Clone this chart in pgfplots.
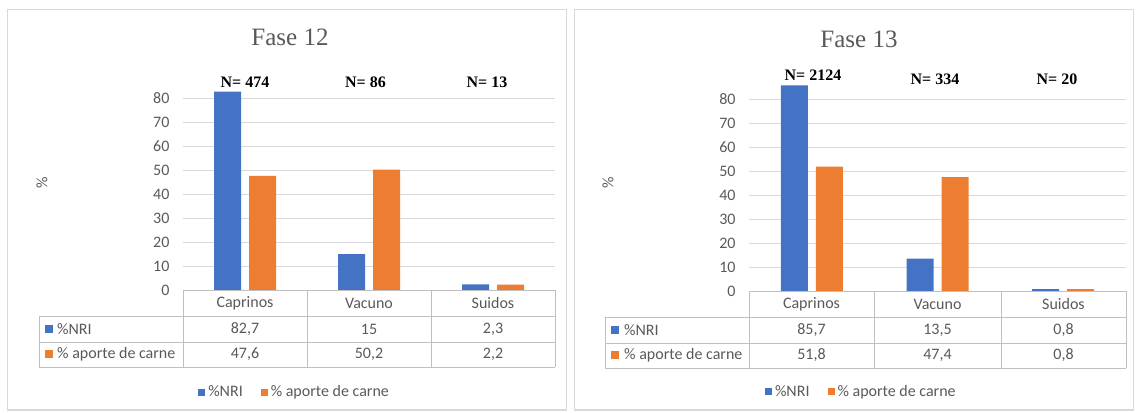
\documentclass[border=0pt]{standalone}
\usepackage{fontspec}
\setmainfont{Carlito}
\newfontfamily\serif{Liberation Serif}
\usepackage{pgfplots}
\pgfplotsset{compat=1.18}
\definecolor{xblue}{HTML}{4472C4}
\definecolor{xorange}{HTML}{ED7D31}
\definecolor{xgrid}{HTML}{D9D9D9}
\definecolor{xtext}{HTML}{595959}
\definecolor{xtab}{HTML}{BFBFBF}
\definecolor{xframe}{HTML}{D9D9D9}
\newcommand{\fs}{\fontsize{16}{18}\selectfont}
\pgfplotsset{panel/.style={
  scale only axis, height=211.2pt, ymin=0, ymax=88, xmin=-0.5, xmax=2.5,
  ybar=8pt, bar width=27pt,
  ytick={0,10,...,80}, xtick=\empty,
  ymajorgrids, grid style={xgrid, line width=0.8pt},
  axis line style={draw=none}, major tick length=0pt,
  yticklabel style={font=\fs, text=xtext, xshift=-10pt},
  /pgf/number format/assume math mode=true,
  anchor=south west,
  legend columns=2,
  legend style={draw=none, fill=none, font=\fs, text=xtext, anchor=center,
     /tikz/every odd column/.append style={column sep=1pt},
     /tikz/every even column/.append style={column sep=16pt}},
  legend image code/.code={\fill[##1] (0pt,-3.5pt) rectangle (7pt,3.5pt);},
}}
\begin{document}
\begin{tikzpicture}[x=1pt,y=1pt]
\useasboundingbox (0pt,0pt) rectangle (1137pt,412pt);
\draw[xframe, line width=1pt] (7,2) rectangle (566,402);
\draw[xframe, line width=1pt] (574,2) rectangle (1133,402);

% ---------- Fase 12 ----------
\begin{axis}[panel, at={(183pt,122pt)}, width=372pt,
  legend style={at={(0.300,-0.483)}}]
\addplot[fill=xblue, draw=none] coordinates {(0,82.7) (1,15) (2,2.3)};
\addplot[fill=xorange, draw=none] coordinates {(0,47.6) (1,50.2) (2,2.2)};
\legend{\%NRI, \% aporte de carne}
\end{axis}
\node[font=\serif\fontsize{25}{27}\selectfont, text=xtext] at (290,374.5) {Fase 12};
\node[font=\serif\bfseries\fontsize{16}{18}\selectfont] at (245,329.5) {N= 474};
\node[font=\serif\bfseries\fontsize{16}{18}\selectfont] at (365.5,329.5) {N= 86};
\node[font=\serif\bfseries\fontsize{16}{18}\selectfont] at (487,329.5) {N= 13};
\node[font=\fs, text=xtext, rotate=90] at (42,229) {\%};
\begin{scope}[xtab, line width=0.8pt]
\draw (183,122) -- (555,122);
\draw (39,96) -- (555,96);
\draw (39,70) -- (555,70);
\draw (39,45) -- (555,45);
\draw (39,96) -- (39,45);
\foreach \xx in {183,307,431,555} \draw (\xx,122) -- (\xx,45);
\end{scope}
\begin{scope}[every node/.style={font=\fs, text=xtext}]
\node at (245,109) {Caprinos};
\node at (369,109) {Vacuno};
\node at (493,109) {Suidos};
\node at (245,83) {82,7};
\node at (369,83) {15};
\node at (493,83) {2,3};
\node at (245,57.5) {47,6};
\node at (369,57.5) {50,2};
\node at (493,57.5) {2,2};
\fill[xblue] (45,79) rectangle (53,87);
\fill[xorange] (45,53.5) rectangle (53,61.5);
\node[anchor=west, inner sep=0pt] at (57,83) {\%NRI};
\node[anchor=west, inner sep=0pt] at (57,57.5) {\% aporte de carne};
\end{scope}

% ---------- Fase 13 ----------
\begin{axis}[panel, at={(749pt,121pt)}, width=377pt,
  legend style={at={(0.298,-0.478)}}]
\addplot[fill=xblue, draw=none] coordinates {(0,85.7) (1,13.5) (2,0.8)};
\addplot[fill=xorange, draw=none] coordinates {(0,51.8) (1,47.4) (2,0.8)};
\legend{\%NRI, \% aporte de carne}
\end{axis}
\node[font=\serif\fontsize{25}{27}\selectfont, text=xtext] at (859,373) {Fase 13};
\node[font=\serif\bfseries\fontsize{16}{18}\selectfont] at (813,337) {N= 2124};
\node[font=\serif\bfseries\fontsize{16}{18}\selectfont] at (935,333) {N= 334};
\node[font=\serif\bfseries\fontsize{16}{18}\selectfont] at (1057,333) {N= 20};
\node[font=\fs, text=xtext, rotate=90] at (608,229) {\%};
\begin{scope}[xtab, line width=0.8pt]
\draw (749,121) -- (1126,121);
\draw (605,95) -- (1126,95);
\draw (605,69) -- (1126,69);
\draw (605,44) -- (1126,44);
\draw (605,95) -- (605,44);
\foreach \xx in {749,874,1001,1126} \draw (\xx,121) -- (\xx,44);
\end{scope}
\begin{scope}[every node/.style={font=\fs, text=xtext}]
\node at (811.5,108) {Caprinos};
\node at (937.5,108) {Vacuno};
\node at (1063.5,108) {Suidos};
\node at (811.5,82) {85,7};
\node at (937.5,82) {13,5};
\node at (1063.5,82) {0,8};
\node at (811.5,56.5) {51,8};
\node at (937.5,56.5) {47,4};
\node at (1063.5,56.5) {0,8};
\fill[xblue] (611,78) rectangle (619,86);
\fill[xorange] (611,52.5) rectangle (619,60.5);
\node[anchor=west, inner sep=0pt] at (624,82) {\%NRI};
\node[anchor=west, inner sep=0pt] at (624,56.5) {\% aporte de carne};
\end{scope}
\end{tikzpicture}
\end{document}
